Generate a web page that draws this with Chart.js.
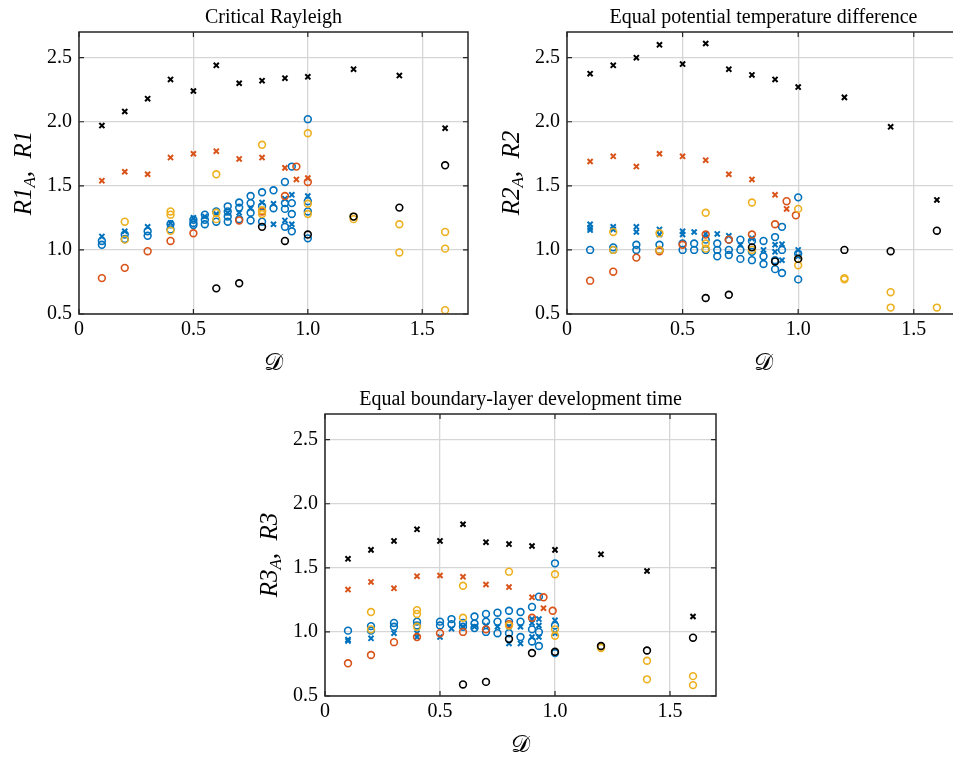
<!DOCTYPE html>
<html lang="en">
<head>
<meta charset="UTF-8">
<title>Rayleigh ratio panels</title>
<script src="https://cdn.jsdelivr.net/npm/chart.js"></script>
<style>
  body { margin: 0; width: 953px; height: 760px; overflow: hidden; background: #fff; position: relative; }
  .panel { position: absolute; }
</style>
</head>
<body>
<div class="panel" id="p1"><canvas></canvas></div>
<div class="panel" id="p2"><canvas></canvas></div>
<div class="panel" id="p3"><canvas></canvas></div>

<script>
// tick values shared by all three panels
const xTicks = [0, 0.5, 1.0, 1.5];
const yTicks = [0.5, 1.0, 1.5, 2.0, 2.5];

// ---- panel 1: critical Rayleigh, [D, R1] ----
const r1BlackCross = [[0.1,1.97],[0.2,2.08],[0.3,2.18],[0.4,2.33],[0.5,2.24],[0.6,2.44],[0.7,2.30],[0.8,2.32],[0.9,2.34],[1.0,2.35],[1.2,2.41],[1.4,2.36],[1.6,1.95]];
const r1BlackCircle = [[0.6,0.70],[0.7,0.74],[0.8,1.18],[0.9,1.07],[1.0,1.12],[1.2,1.26],[1.4,1.33],[1.6,1.66]];
const r1Yellow = [[0.2,1.22],[0.2,1.08],[0.4,1.30],[0.4,1.275],[0.4,1.15],[0.6,1.59],[0.6,1.29],[0.6,1.24],[0.8,1.82],[0.8,1.31],[0.8,1.28],[1.0,1.91],[1.0,1.36],[1.0,1.28],[1.2,1.24],[1.2,1.26],[1.4,1.20],[1.4,0.98],[1.6,1.14],[1.6,1.01],[1.6,0.53]];
const r1OrangeCross = [[0.1,1.54],[0.2,1.61],[0.3,1.59],[0.4,1.72],[0.5,1.75],[0.6,1.77],[0.7,1.71],[0.8,1.72],[0.9,1.64],[0.95,1.55],[1.0,1.56]];
const r1OrangeCircle = [[0.1,0.78],[0.2,0.86],[0.3,0.99],[0.4,1.07],[0.5,1.13],[0.7,1.23],[0.8,1.30],[0.9,1.42],[0.95,1.65],[1.0,1.53]];
const r1BlueCross = [[0.1,1.105],[0.2,1.145],[0.3,1.18],[0.4,1.21],[0.5,1.25],[0.55,1.26],[0.6,1.28],[0.65,1.29],[0.7,1.29],[0.75,1.325],[0.8,1.37],[0.85,1.36],[0.85,1.20],[0.9,1.40],[0.9,1.23],[0.93,1.43],[0.93,1.20],[1.0,1.42]];
const r1BlueCircle = [[0.1,1.07],[0.1,1.04],[0.2,1.12],[0.2,1.085],[0.3,1.145],[0.3,1.11],[0.4,1.20],[0.4,1.16],[0.5,1.235],[0.5,1.21],[0.5,1.195],[0.55,1.275],[0.55,1.235],[0.55,1.20],[0.6,1.30],[0.6,1.22],[0.65,1.34],[0.65,1.30],[0.65,1.26],[0.65,1.22],[0.7,1.37],[0.7,1.33],[0.7,1.24],[0.75,1.42],[0.75,1.365],[0.75,1.29],[0.75,1.23],[0.8,1.45],[0.8,1.34],[0.8,1.22],[0.85,1.465],[0.85,1.325],[0.9,1.53],[0.9,1.365],[0.9,1.32],[0.9,1.18],[0.93,1.65],[0.93,1.365],[0.93,1.28],[0.93,1.145],[1.0,2.02],[1.0,1.38],[1.0,1.30],[1.0,1.09]];

// ---- panel 2: equal potential temperature difference, [D, R2] ----
const r2BlackCross = [[0.1,2.375],[0.2,2.44],[0.3,2.50],[0.4,2.60],[0.5,2.45],[0.6,2.61],[0.7,2.41],[0.8,2.365],[0.9,2.33],[1.0,2.27],[1.2,2.19],[1.4,1.96],[1.6,1.39]];
const r2BlackCircle = [[0.6,0.625],[0.7,0.65],[0.8,1.02],[0.9,0.91],[1.0,0.93],[1.2,1.0],[1.4,0.99],[1.6,1.15]];
const r2Yellow = [[0.2,1.14],[0.2,1.0],[0.4,1.13],[0.4,1.0],[0.6,1.29],[0.6,1.05],[0.6,1.01],[0.8,1.37],[0.8,1.0],[1.0,1.32],[1.0,0.93],[1.0,0.88],[1.2,0.78],[1.2,0.77],[1.4,0.67],[1.4,0.55],[1.6,0.55]];
const r2OrangeCross = [[0.1,1.69],[0.2,1.73],[0.3,1.65],[0.4,1.75],[0.5,1.73],[0.6,1.70],[0.7,1.59],[0.8,1.55],[0.9,1.43],[0.95,1.32]];
const r2OrangeCircle = [[0.1,0.76],[0.2,0.83],[0.3,0.94],[0.4,0.99],[0.5,1.04],[0.6,1.12],[0.7,1.08],[0.8,1.12],[0.9,1.20],[0.95,1.38],[0.99,1.27]];
const r2BlueCross = [[0.1,1.20],[0.1,1.17],[0.1,1.155],[0.2,1.18],[0.2,1.16],[0.3,1.18],[0.3,1.14],[0.4,1.16],[0.4,1.12],[0.5,1.145],[0.5,1.12],[0.55,1.14],[0.6,1.125],[0.65,1.125],[0.7,1.11],[0.75,1.04],[0.8,1.09],[0.85,1.0],[0.9,1.04],[0.9,0.985],[0.93,1.045],[0.93,0.92],[1.0,1.0],[1.0,0.95]];
const r2BlueCircle = [[0.1,1.0],[0.2,1.02],[0.2,1.0],[0.3,1.04],[0.3,1.0],[0.4,1.04],[0.4,1.0],[0.5,1.05],[0.5,1.0],[0.55,1.05],[0.55,1.0],[0.6,1.08],[0.6,1.0],[0.65,1.05],[0.65,1.0],[0.65,0.95],[0.7,1.08],[0.7,1.0],[0.7,0.96],[0.75,1.08],[0.75,1.0],[0.75,0.93],[0.8,1.07],[0.8,0.985],[0.8,0.92],[0.85,1.07],[0.85,0.95],[0.85,0.89],[0.9,1.10],[0.9,0.92],[0.9,0.85],[0.93,1.18],[0.93,1.0],[0.93,0.82],[1.0,1.41],[1.0,0.97],[1.0,0.77]];

// ---- panel 3: equal boundary-layer development time, [D, R3] ----
const r3BlackCross = [[0.1,1.57],[0.2,1.64],[0.3,1.71],[0.4,1.80],[0.5,1.71],[0.6,1.84],[0.7,1.70],[0.8,1.685],[0.9,1.67],[1.0,1.64],[1.2,1.605],[1.4,1.475],[1.6,1.12]];
const r3BlackCircle = [[0.6,0.59],[0.7,0.61],[0.8,0.945],[0.9,0.835],[1.0,0.845],[1.2,0.89],[1.4,0.855],[1.6,0.955]];
const r3Yellow = [[0.2,1.155],[0.2,1.02],[0.4,1.17],[0.4,1.14],[0.4,1.04],[0.6,1.36],[0.6,1.11],[0.8,1.47],[0.8,1.05],[1.0,1.45],[1.0,1.02],[1.0,0.97],[1.2,0.885],[1.2,0.875],[1.4,0.775],[1.4,0.63],[1.6,0.655],[1.6,0.585]];
const r3OrangeCross = [[0.1,1.33],[0.2,1.39],[0.3,1.34],[0.4,1.435],[0.5,1.44],[0.6,1.43],[0.7,1.37],[0.8,1.35],[0.9,1.27],[0.95,1.185]];
const r3OrangeCircle = [[0.1,0.755],[0.2,0.82],[0.3,0.92],[0.4,0.96],[0.5,0.99],[0.6,1.0],[0.7,1.02],[0.8,1.06],[0.9,1.11],[0.95,1.27],[0.99,1.165]];
const r3BlueCross = [[0.1,0.94],[0.1,0.93],[0.2,0.95],[0.3,0.99],[0.4,0.99],[0.4,0.96],[0.5,0.96],[0.55,1.025],[0.6,1.04],[0.65,1.04],[0.7,1.05],[0.75,1.04],[0.8,1.04],[0.8,0.91],[0.85,1.04],[0.85,0.91],[0.9,1.10],[0.9,1.07],[0.9,0.96],[0.93,1.10],[0.93,1.05],[0.93,0.96],[1.0,1.09],[1.0,0.99]];
const r3BlueCircle = [[0.1,1.01],[0.2,1.045],[0.2,1.01],[0.3,1.07],[0.3,1.04],[0.4,1.08],[0.4,1.05],[0.5,1.08],[0.5,1.05],[0.55,1.10],[0.55,1.06],[0.6,1.07],[0.6,1.04],[0.65,1.12],[0.65,1.065],[0.65,1.03],[0.7,1.14],[0.7,1.08],[0.7,1.0],[0.75,1.15],[0.75,1.08],[0.75,0.99],[0.8,1.165],[0.8,1.08],[0.8,0.99],[0.85,1.155],[0.85,1.08],[0.85,0.96],[0.9,1.195],[0.9,1.02],[0.9,0.925],[0.93,1.275],[0.93,1.0],[0.93,0.89],[1.0,1.535],[1.0,1.05],[1.0,0.835]];

const BLUE = '#0072BD', ORANGE = '#D95319', YELLOW = '#EDB120', BLACK = '#000000';
const serif = '"Liberation Serif", "DejaVu Serif", serif';

function cross(pts, color) {
  return { data: pts.map(p => ({ x: p[0], y: p[1] })), pointStyle: 'crossRot', pointRadius: 3.6,
    borderColor: color, pointBorderWidth: 2, backgroundColor: color };
}
function ring(pts, color) {
  return { data: pts.map(p => ({ x: p[0], y: p[1] })), pointStyle: 'circle', pointRadius: 3.4,
    borderColor: color, pointBorderWidth: 1.6, backgroundColor: 'rgba(0,0,0,0)' };
}

// frame, inward ticks, title and axis labels (MATLAB look)
const framePlugin = {
  id: 'frame',
  afterDraw(chart) {
    const { ctx, chartArea: a, scales } = chart;
    const o = chart.options.plugins.frame;
    ctx.save();
    ctx.strokeStyle = '#262626';
    ctx.lineWidth = 1.5;
    ctx.strokeRect(a.left, a.top, a.right - a.left, a.bottom - a.top);
    ctx.lineWidth = 1.2;
    ctx.beginPath();
    xTicks.forEach(v => {
      const px = scales.x.getPixelForValue(v);
      ctx.moveTo(px, a.bottom); ctx.lineTo(px, a.bottom - 5);
      ctx.moveTo(px, a.top); ctx.lineTo(px, a.top + 5);
    });
    yTicks.forEach(v => {
      const py = scales.y.getPixelForValue(v);
      ctx.moveTo(a.left, py); ctx.lineTo(a.left + 5, py);
      ctx.moveTo(a.right, py); ctx.lineTo(a.right - 5, py);
    });
    ctx.stroke();

    const cx = (a.left + a.right) / 2, cy = (a.top + a.bottom) / 2;
    ctx.fillStyle = '#000';
    ctx.textAlign = 'center';
    ctx.textBaseline = 'alphabetic';
    ctx.font = '20px ' + serif;
    ctx.fillText(o.title, cx, a.top - 9);

    ctx.textBaseline = 'middle';
    ctx.font = '24px "DejaVu Serif", "DejaVu Sans", serif';
    ctx.fillText('\u{1D49F}', cx, a.bottom + 50);

    // y label: R#_A, R#
    const big = 'italic 25px ' + serif, small = 'italic 17px ' + serif;
    const parts = [[o.ylab, big, 0], ['A', small, 7], [',  ' + o.ylab, big, 0]];
    let total = 0;
    parts.forEach(p => { ctx.font = p[1]; total += ctx.measureText(p[0]).width; });
    ctx.translate(a.left - 55, cy);
    ctx.rotate(-Math.PI / 2);
    ctx.textAlign = 'left';
    let x = -total / 2;
    parts.forEach(p => {
      ctx.font = p[1];
      ctx.fillText(p[0], x, p[2]);
      x += ctx.measureText(p[0]).width;
    });
    ctx.restore();
  }
};

function makePanel(id, box, title, ylab, sets) {
  const padL = 90, padT = 32, padR = 10, padB = 75;
  const div = document.getElementById(id);
  div.style.left = (box.left - padL) + 'px';
  div.style.top = (box.top - padT) + 'px';
  const canvas = div.querySelector('canvas');
  canvas.width = box.width + padL + padR;
  canvas.height = box.height + padT + padB;
  const grid = { color: '#d6d6d6', lineWidth: 1.3, drawTicks: false };
  return new Chart(canvas, {
    type: 'scatter',
    data: { datasets: sets },
    options: {
      responsive: false,
      animation: false,
      layout: { padding: { left: 0, top: padT, right: padR, bottom: 0 } },
      plugins: { legend: { display: false }, tooltip: { enabled: false }, frame: { title, ylab } },
      scales: {
        x: {
          type: 'linear', min: 0, max: 1.7,
          afterFit: s => { s.height = padB; },
          afterBuildTicks: s => { s.ticks = xTicks.map(v => ({ value: v })); },
          grid, border: { display: false },
          ticks: { padding: 4, color: '#000', font: { family: serif, size: 20 },
            callback: v => v === 0 ? '0' : v.toFixed(1) }
        },
        y: {
          min: 0.5, max: 2.7,
          afterFit: s => { s.width = padL; },
          afterBuildTicks: s => { s.ticks = yTicks.map(v => ({ value: v })); },
          grid, border: { display: false },
          ticks: { padding: 7, color: '#000', font: { family: serif, size: 20 },
            callback: v => v.toFixed(1) }
        }
      }
    },
    plugins: [framePlugin]
  });
}

// dataset 0 is drawn on top in Chart.js, so black goes first
makePanel('p1', { left: 79, top: 32, width: 389, height: 282 }, 'Critical Rayleigh', 'R1', [
  cross(r1BlackCross, BLACK), ring(r1BlackCircle, BLACK), ring(r1Yellow, YELLOW),
  cross(r1OrangeCross, ORANGE), ring(r1OrangeCircle, ORANGE), cross(r1BlueCross, BLUE), ring(r1BlueCircle, BLUE)
]);
makePanel('p2', { left: 567, top: 32, width: 393, height: 282 }, 'Equal potential temperature difference', 'R2', [
  cross(r2BlackCross, BLACK), ring(r2BlackCircle, BLACK), ring(r2Yellow, YELLOW),
  cross(r2OrangeCross, ORANGE), ring(r2OrangeCircle, ORANGE), cross(r2BlueCross, BLUE), ring(r2BlueCircle, BLUE)
]);
makePanel('p3', { left: 325, top: 414, width: 391, height: 282 }, 'Equal boundary-layer development time', 'R3', [
  cross(r3BlackCross, BLACK), ring(r3BlackCircle, BLACK), ring(r3Yellow, YELLOW),
  cross(r3OrangeCross, ORANGE), ring(r3OrangeCircle, ORANGE), cross(r3BlueCross, BLUE), ring(r3BlueCircle, BLUE)
]);
</script>
</body>
</html>
